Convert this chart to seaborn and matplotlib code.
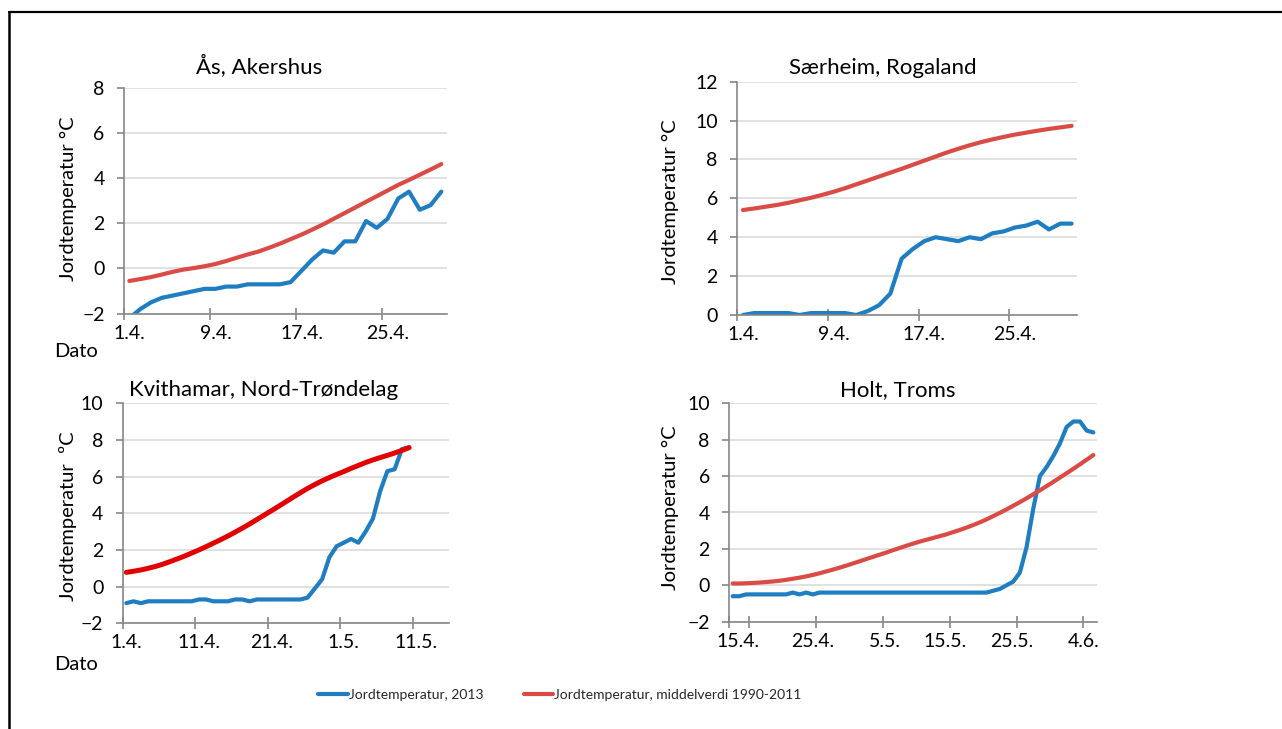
import numpy as np
import pandas as pd
import matplotlib
matplotlib.use("Agg")
import matplotlib.pyplot as plt
import seaborn as sns
from matplotlib.lines import Line2D

# ---- daily soil temperature (°C) ----
# Ås, Akershus: 1.4. - 30.4.
aas_2013 = [-2.2, -1.8, -1.5, -1.3, -1.2, -1.1, -1.0, -0.9, -0.9, -0.8,
            -0.8, -0.7, -0.7, -0.7, -0.7, -0.6, -0.1, 0.4, 0.8, 0.7,
            1.2, 1.2, 2.1, 1.8, 2.2, 3.1, 3.4, 2.6, 2.8, 3.4]
aas_mean = [-0.55, -0.47, -0.38, -0.27, -0.15, -0.05, 0.02, 0.1, 0.2, 0.33,
            0.48, 0.62, 0.75, 0.92, 1.1, 1.3, 1.5, 1.72, 1.95, 2.2,
            2.45, 2.7, 2.95, 3.2, 3.45, 3.7, 3.92, 4.15, 4.38, 4.62]
aas_labels = ["1.4.", "9.4.", "17.4.", "25.4."]

# Særheim, Rogaland: 1.4. - 30.4.
saer_2013 = [0.0, 0.1, 0.1, 0.1, 0.1, 0.0, 0.1, 0.1, 0.1, 0.1,
             0.0, 0.2, 0.5, 1.1, 2.9, 3.4, 3.8, 4.0, 3.9, 3.8,
             4.0, 3.9, 4.2, 4.3, 4.5, 4.6, 4.8, 4.4, 4.7, 4.7]
saer_mean = [5.4, 5.48, 5.57, 5.66, 5.77, 5.9, 6.03, 6.18, 6.34, 6.52,
             6.72, 6.92, 7.12, 7.32, 7.52, 7.73, 7.94, 8.15, 8.36, 8.55,
             8.73, 8.89, 9.03, 9.16, 9.28, 9.38, 9.48, 9.57, 9.65, 9.73]
saer_labels = ["1.4.", "9.4.", "17.4.", "25.4."]

# Kvithamar, Nord-Trøndelag: 1.4. - 10.5.
kvit_2013 = [-0.9, -0.8, -0.9, -0.8, -0.8, -0.8, -0.8, -0.8, -0.8, -0.8,
             -0.7, -0.7, -0.8, -0.8, -0.8, -0.7, -0.7, -0.8, -0.7, -0.7,
             -0.7, -0.7, -0.7, -0.7, -0.7, -0.6, -0.1, 0.4, 1.6, 2.2,
             2.4, 2.6, 2.4, 3.0, 3.7, 5.2, 6.3, 6.4, 7.5, 7.6]
kvit_mean = [0.78, 0.84, 0.91, 1.0, 1.1, 1.22, 1.36, 1.51, 1.66, 1.83,
             2.0, 2.18, 2.37, 2.56, 2.76, 2.97, 3.19, 3.42, 3.66, 3.9,
             4.14, 4.38, 4.63, 4.88, 5.12, 5.36, 5.57, 5.77, 5.95, 6.12,
             6.28, 6.45, 6.61, 6.77, 6.91, 7.04, 7.16, 7.29, 7.43, 7.58]
kvit_labels = ["1.4.", "11.4.", "21.4.", "1.5.", "11.5."]

# Holt, Troms: 12.4. - 5.6.
holt_2013 = [-0.6, -0.6, -0.5, -0.5, -0.5, -0.5, -0.5, -0.5, -0.5, -0.4,
             -0.5, -0.4, -0.5, -0.4, -0.4, -0.4, -0.4, -0.4, -0.4, -0.4,
             -0.4, -0.4, -0.4, -0.4, -0.4, -0.4, -0.4, -0.4, -0.4, -0.4,
             -0.4, -0.4, -0.4, -0.4, -0.4, -0.4, -0.4, -0.4, -0.4, -0.3,
             -0.2, 0.0, 0.2, 0.7, 2.1, 4.2, 6.0, 6.5, 7.1, 7.8,
             8.7, 9.0, 9.0, 8.5, 8.4]
holt_mean = [0.1, 0.1, 0.11, 0.13, 0.15, 0.18, 0.21, 0.25, 0.3, 0.36,
             0.42, 0.49, 0.57, 0.66, 0.76, 0.86, 0.97, 1.08, 1.2, 1.32,
             1.44, 1.56, 1.68, 1.8, 1.93, 2.05, 2.17, 2.29, 2.4, 2.5,
             2.6, 2.7, 2.8, 2.92, 3.04, 3.17, 3.31, 3.46, 3.62, 3.8,
             3.98, 4.17, 4.37, 4.57, 4.78, 5.0, 5.22, 5.45, 5.68, 5.92,
             6.16, 6.4, 6.65, 6.9, 7.16]
holt_labels = ["15.4.", "25.4.", "5.5.", "15.5.", "25.5.", "4.6."]

series_names = ["Jordtemperatur, 2013", "Jordtemperatur, middelverdi 1990-2011"]

# ---- styling ----
BLUE = "#1f7dc1"
RED = "#db4b45"
RED_KVIT = "#e30000"
AXIS = "#868686"
GRID = "#d9d9d9"

sns.set_theme(style="white")
plt.rcParams["font.family"] = ["Lato", "DejaVu Sans"]

W, H = 1282, 729
fig = plt.figure(figsize=(W / 100, H / 100), dpi=100)
fig.patch.set_facecolor("white")


def axes_px(x0, x1, y0, y1):
    return fig.add_axes([x0 / W, 1 - y1 / H, (x1 - x0) / W, (y1 - y0) / H])


panels = [
    dict(rect=(124, 446.7, 87.7, 313.7), title="Ås, Akershus", tpos=(259, 74),
         ylab="Jordtemperatur °C", ypos=(68, 199),
         s2013=aas_2013, smean=aas_mean, x0=1, ylim=(-2, 8),
         labels=aas_labels, lpos=[1, 9, 17, 25], tpos_ticks=[0.5, 8.5, 16.5, 24.5],
         xlim=(0.5, 30.5), red=RED, redlw=3.0),
    dict(rect=(737.3, 1077.3, 81.7, 315), title="Særheim, Rogaland", tpos=(883, 74),
         ylab="Jordtemperatur °C", ypos=(670, 202),
         s2013=saer_2013, smean=saer_mean, x0=1, ylim=(0, 12),
         labels=saer_labels, lpos=[1, 9, 17, 25], tpos_ticks=[0.5, 8.5, 16.5, 24.5],
         xlim=(0.5, 30.5), red=RED, redlw=3.0),
    dict(rect=(122.7, 449, 403.3, 623.3), title="Kvithamar, Nord-Trøndelag", tpos=(264, 396),
         ylab="Jordtemperatur  ºC", ypos=(68, 516),
         s2013=kvit_2013, smean=kvit_mean, x0=1, ylim=(-2, 10),
         labels=kvit_labels, lpos=[1, 11, 21, 31, 41], tpos_ticks=[0.5, 10.5, 20.5, 30.5, 40.5],
         xlim=(0.5, 45.5), red=RED_KVIT, redlw=3.6),
    dict(rect=(729.3, 1096.7, 403.3, 621.7), title="Holt, Troms", tpos=(898, 396),
         ylab="Jordtemperatur °C", ypos=(670, 508),
         s2013=holt_2013, smean=holt_mean, x0=0, ylim=(-2, 10),
         labels=holt_labels, lpos=[0.8, 12.0, 22.8, 31.8, 41.8, 52.6],
         tpos_ticks=[-0.5, 2.5, 12.5, 22.5, 32.5, 42.5, 52.5],
         xlim=(-0.5, 54.5), red=RED, redlw=3.0),
]

TICK_FS = 14
for p in panels:
    ax = axes_px(*p["rect"])
    n = len(p["s2013"])
    df = pd.DataFrame({
        "dag": np.arange(p["x0"], p["x0"] + n),
        "t2013": p["s2013"],
        "tmean": p["smean"],
    })
    sns.lineplot(data=df, x="dag", y="t2013", ax=ax, color=BLUE, lw=3.0,
                 solid_joinstyle="round", solid_capstyle="round", legend=False)
    sns.lineplot(data=df, x="dag", y="tmean", ax=ax, color=p["red"], lw=p["redlw"],
                 solid_joinstyle="round", solid_capstyle="round", legend=False)

    ax.set_xlim(*p["xlim"])
    ax.set_ylim(*p["ylim"])
    ax.set_xlabel("")
    ax.set_ylabel("")
    ax.set_yticks(np.arange(p["ylim"][0], p["ylim"][1] + 1, 2))
    ax.yaxis.grid(True, color=GRID, lw=1.1)
    ax.xaxis.grid(False)
    ax.set_axisbelow(True)
    for side in ("top", "right"):
        ax.spines[side].set_visible(False)
    for side in ("left", "bottom"):
        ax.spines[side].set_color(AXIS)
        ax.spines[side].set_linewidth(1.2)

    ax.set_xticks(p["lpos"])
    ax.set_xticklabels(p["labels"])
    ax.set_xticks(p["tpos_ticks"], minor=True)
    ax.tick_params(axis="x", which="major", bottom=True, length=0, pad=8,
                   labelsize=TICK_FS, labelcolor="black")
    ax.tick_params(axis="x", which="minor", bottom=True, direction="inout",
                   length=9, width=1.2, color=AXIS)
    ax.tick_params(axis="y", which="major", left=True, direction="out",
                   length=5, width=1.2, color=AXIS, pad=9,
                   labelsize=TICK_FS, labelcolor="black")

    fig.text(p["tpos"][0] / W, 1 - p["tpos"][1] / H, p["title"],
             ha="center", va="baseline", fontsize=16, color="black")
    fig.text(p["ypos"][0] / W, 1 - p["ypos"][1] / H, p["ylab"],
             ha="center", va="center", rotation=90, fontsize=14.5, color="black")

# "Dato" under the left-hand axes
for yb in (357, 670):
    fig.text(76 / W, 1 - yb / H, "Dato", ha="center", va="baseline",
             fontsize=14.5, color="black")

# shared legend
handles = [Line2D([], [], color=BLUE, lw=3.0), Line2D([], [], color=RED, lw=3.0)]
fig.legend(handles, series_names, loc="center", bbox_to_anchor=(560 / W, 1 - 695 / H),
           ncol=2, frameon=False, fontsize=10.0,
           handlelength=2.1, handletextpad=0.1, columnspacing=2.9)

# frame lines along the top and left edge
fig.add_artist(Line2D([9 / W, 1.0], [1 - 12 / H, 1 - 12 / H], color="black", lw=1.6,
                      transform=fig.transFigure))
fig.add_artist(Line2D([9 / W, 9 / W], [0.0, 1 - 12 / H], color="black", lw=1.8,
                      transform=fig.transFigure))

fig.savefig("out.png", dpi=100, facecolor="white")
